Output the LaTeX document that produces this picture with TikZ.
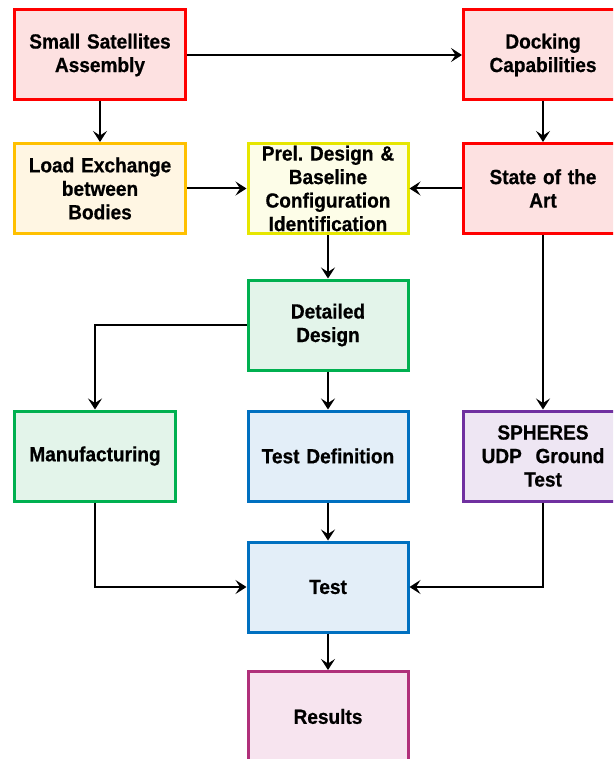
\documentclass[tikz,border=0pt]{standalone}
\usepackage{fontspec}
\setmainfont{Liberation Sans}
\newfontfamily\boxfont{Liberation Sans}[FakeStretch=0.93, FakeBold=0.6]
\usetikzlibrary{arrows.meta}

\definecolor{redE}{HTML}{FF0000}   \definecolor{redF}{HTML}{FDE1E1}
\definecolor{orgE}{HTML}{FFC000}   \definecolor{orgF}{HTML}{FFF6E3}
\definecolor{yelE}{HTML}{E6E600}   \definecolor{yelF}{HTML}{FDFDE8}
\definecolor{grnE}{HTML}{00B050}   \definecolor{grnF}{HTML}{E3F4EA}
\definecolor{bluE}{HTML}{0070C0}   \definecolor{bluF}{HTML}{E3EEF8}
\definecolor{purE}{HTML}{7030A0}   \definecolor{purF}{HTML}{EEE6F3}
\definecolor{magE}{HTML}{B0307A}   \definecolor{magF}{HTML}{F7E4EF}

\tikzset{
  box/.style={draw=#1E, fill=#1F, line width=3pt, rectangle,
    minimum width=160pt, minimum height=90pt, inner sep=0pt,
    align=center, text width=158pt,
    font=\boxfont\fontsize{20.5}{23.5}\selectfont\bfseries\frenchspacing},
  link/.style={line width=2pt, -{Stealth[length=11pt,width=14pt,inset=4.5pt]}}
}

\begin{document}
\begin{tikzpicture}[x=1pt,y=-1pt]
\useasboundingbox (0,0) rectangle (613,759);
\clip (0,0) rectangle (613,759);

% top row
\node[box=red, minimum width=171pt] (ssa) at (100,55) {Small Satellites\\Assembly};
\node[box=red, minimum width=159pt] (dock) at (543,55) {Docking\\Capabilities};
% second row
\node[box=org, minimum width=171pt] (load) at (100,188.5) {Load Exchange\\between\\Bodies};
\node[box=yel] (prel) at (328,188.5) {Prel. Design \&\\Baseline\\Configuration\\Identification};
\node[box=red, minimum width=159pt] (state) at (543,188.5) {State of the\\Art};
% design
\node[box=grn] (detail) at (328,325) {Detailed\\Design};
% fourth row
\node[box=grn, minimum width=161pt] (manuf) at (95,456) {Manufacturing};
\node[box=blu] (testdef) at (328,456) {Test Definition};
\node[box=pur, minimum width=159pt] (sph) at (543,456) {SPHERES\\UDP\ \ Ground\\Test};
% test and results
\node[box=blu] (test) at (328,587) {Test};
\node[box=mag] (res) at (328,716.5) {Results};

% connectors
\draw[link] (ssa) -- (dock);
\draw[link] (ssa) -- (load);
\draw[link] (dock) -- (state);
\draw[link] (load) -- (prel);
\draw[link] (state) -- (prel);
\draw[link] (prel) -- (detail);
\draw[link] (detail.west) -| (manuf.north);
\draw[link] (detail) -- (testdef);
\draw[link] (state) -- (sph);
\draw[link] (manuf.south) |- (test.west);
\draw[link] (testdef) -- (test);
\draw[link] (sph.south) |- (test.east);
\draw[link] (test) -- (res);
\end{tikzpicture}
\end{document}
